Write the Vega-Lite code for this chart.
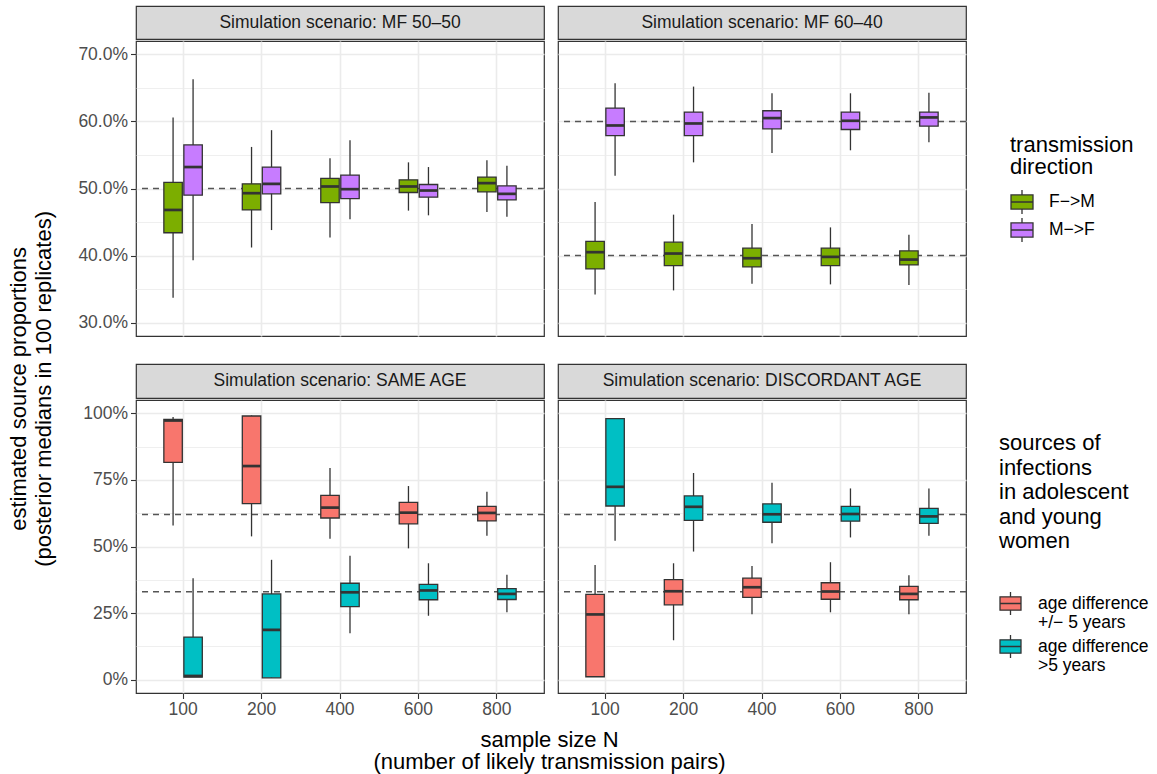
{
  "$schema": "https://vega.github.io/schema/vega-lite/v6.json",
  "background": "white",
  "padding": {"left": 8, "top": 5, "right": 5, "bottom": 2},
  "config": {
    "font": "Liberation Sans",
    "view": {"stroke": null},
    "axis": {"labelFont": "Liberation Sans"},
    "legend": {"labelFont": "Liberation Sans", "titleFont": "Liberation Sans"}
  },
  "datasets": {
    "boxes": [
      {"scenario": "MF 50-50", "N": 100, "group": "F−>M", "lo": 0.337, "q1": 0.434, "med": 0.468, "q3": 0.509, "hi": 0.606},
      {"scenario": "MF 50-50", "N": 100, "group": "M−>F", "lo": 0.393, "q1": 0.490, "med": 0.532, "q3": 0.565, "hi": 0.663},
      {"scenario": "MF 50-50", "N": 200, "group": "F−>M", "lo": 0.412, "q1": 0.468, "med": 0.493, "q3": 0.507, "hi": 0.562},
      {"scenario": "MF 50-50", "N": 200, "group": "M−>F", "lo": 0.438, "q1": 0.492, "med": 0.507, "q3": 0.532, "hi": 0.587},
      {"scenario": "MF 50-50", "N": 400, "group": "F−>M", "lo": 0.427, "q1": 0.479, "med": 0.503, "q3": 0.515, "hi": 0.545},
      {"scenario": "MF 50-50", "N": 400, "group": "M−>F", "lo": 0.454, "q1": 0.485, "med": 0.499, "q3": 0.520, "hi": 0.572},
      {"scenario": "MF 50-50", "N": 600, "group": "F−>M", "lo": 0.467, "q1": 0.494, "med": 0.503, "q3": 0.513, "hi": 0.539},
      {"scenario": "MF 50-50", "N": 600, "group": "M−>F", "lo": 0.460, "q1": 0.487, "med": 0.497, "q3": 0.506, "hi": 0.532},
      {"scenario": "MF 50-50", "N": 800, "group": "F−>M", "lo": 0.465, "q1": 0.495, "med": 0.508, "q3": 0.517, "hi": 0.542},
      {"scenario": "MF 50-50", "N": 800, "group": "M−>F", "lo": 0.458, "q1": 0.483, "med": 0.492, "q3": 0.504, "hi": 0.534},
      {"scenario": "MF 60-40", "N": 100, "group": "F−>M", "lo": 0.342, "q1": 0.380, "med": 0.405, "q3": 0.421, "hi": 0.480},
      {"scenario": "MF 60-40", "N": 100, "group": "M−>F", "lo": 0.519, "q1": 0.579, "med": 0.594, "q3": 0.620, "hi": 0.657},
      {"scenario": "MF 60-40", "N": 200, "group": "F−>M", "lo": 0.348, "q1": 0.385, "med": 0.403, "q3": 0.420, "hi": 0.461},
      {"scenario": "MF 60-40", "N": 200, "group": "M−>F", "lo": 0.539, "q1": 0.579, "med": 0.597, "q3": 0.614, "hi": 0.652},
      {"scenario": "MF 60-40", "N": 400, "group": "F−>M", "lo": 0.358, "q1": 0.383, "med": 0.396, "q3": 0.411, "hi": 0.447},
      {"scenario": "MF 60-40", "N": 400, "group": "M−>F", "lo": 0.553, "q1": 0.589, "med": 0.605, "q3": 0.616, "hi": 0.642},
      {"scenario": "MF 60-40", "N": 600, "group": "F−>M", "lo": 0.357, "q1": 0.385, "med": 0.398, "q3": 0.411, "hi": 0.442},
      {"scenario": "MF 60-40", "N": 600, "group": "M−>F", "lo": 0.557, "q1": 0.588, "med": 0.601, "q3": 0.614, "hi": 0.642},
      {"scenario": "MF 60-40", "N": 800, "group": "F−>M", "lo": 0.356, "q1": 0.386, "med": 0.394, "q3": 0.407, "hi": 0.431},
      {"scenario": "MF 60-40", "N": 800, "group": "M−>F", "lo": 0.569, "q1": 0.593, "med": 0.606, "q3": 0.614, "hi": 0.643},
      {"scenario": "SAME AGE", "N": 100, "group": "age difference +/− 5 years", "lo": 0.579, "q1": 0.816, "med": 0.973, "q3": 0.977, "hi": 0.986},
      {"scenario": "SAME AGE", "N": 100, "group": "age difference >5 years", "lo": 0.010, "q1": 0.010, "med": 0.014, "q3": 0.160, "hi": 0.381},
      {"scenario": "SAME AGE", "N": 200, "group": "age difference +/− 5 years", "lo": 0.538, "q1": 0.661, "med": 0.802, "q3": 0.990, "hi": 0.992},
      {"scenario": "SAME AGE", "N": 200, "group": "age difference >5 years", "lo": 0.007, "q1": 0.007, "med": 0.187, "q3": 0.322, "hi": 0.450},
      {"scenario": "SAME AGE", "N": 400, "group": "age difference +/− 5 years", "lo": 0.529, "q1": 0.607, "med": 0.646, "q3": 0.692, "hi": 0.795},
      {"scenario": "SAME AGE", "N": 400, "group": "age difference >5 years", "lo": 0.174, "q1": 0.274, "med": 0.328, "q3": 0.362, "hi": 0.465},
      {"scenario": "SAME AGE", "N": 600, "group": "age difference +/− 5 years", "lo": 0.493, "q1": 0.585, "med": 0.627, "q3": 0.666, "hi": 0.727},
      {"scenario": "SAME AGE", "N": 600, "group": "age difference >5 years", "lo": 0.240, "q1": 0.300, "med": 0.335, "q3": 0.358, "hi": 0.437},
      {"scenario": "SAME AGE", "N": 800, "group": "age difference +/− 5 years", "lo": 0.540, "q1": 0.596, "med": 0.626, "q3": 0.651, "hi": 0.706},
      {"scenario": "SAME AGE", "N": 800, "group": "age difference >5 years", "lo": 0.253, "q1": 0.301, "med": 0.322, "q3": 0.342, "hi": 0.394},
      {"scenario": "DISCORDANT AGE", "N": 100, "group": "age difference +/− 5 years", "lo": 0.011, "q1": 0.011, "med": 0.245, "q3": 0.320, "hi": 0.431},
      {"scenario": "DISCORDANT AGE", "N": 100, "group": "age difference >5 years", "lo": 0.522, "q1": 0.652, "med": 0.724, "q3": 0.980, "hi": 0.981},
      {"scenario": "DISCORDANT AGE", "N": 200, "group": "age difference +/− 5 years", "lo": 0.148, "q1": 0.281, "med": 0.332, "q3": 0.376, "hi": 0.437},
      {"scenario": "DISCORDANT AGE", "N": 200, "group": "age difference >5 years", "lo": 0.481, "q1": 0.598, "med": 0.649, "q3": 0.690, "hi": 0.776},
      {"scenario": "DISCORDANT AGE", "N": 400, "group": "age difference +/− 5 years", "lo": 0.246, "q1": 0.309, "med": 0.347, "q3": 0.381, "hi": 0.427},
      {"scenario": "DISCORDANT AGE", "N": 400, "group": "age difference >5 years", "lo": 0.512, "q1": 0.591, "med": 0.621, "q3": 0.660, "hi": 0.739},
      {"scenario": "DISCORDANT AGE", "N": 600, "group": "age difference +/− 5 years", "lo": 0.253, "q1": 0.302, "med": 0.331, "q3": 0.364, "hi": 0.441},
      {"scenario": "DISCORDANT AGE", "N": 600, "group": "age difference >5 years", "lo": 0.534, "q1": 0.595, "med": 0.622, "q3": 0.651, "hi": 0.718},
      {"scenario": "DISCORDANT AGE", "N": 800, "group": "age difference +/− 5 years", "lo": 0.246, "q1": 0.300, "med": 0.322, "q3": 0.350, "hi": 0.392},
      {"scenario": "DISCORDANT AGE", "N": 800, "group": "age difference >5 years", "lo": 0.540, "q1": 0.587, "med": 0.613, "q3": 0.643, "hi": 0.718}
    ],
    "refs": [
      {"scenario": "MF 50-50", "target": 0.5},
      {"scenario": "MF 60-40", "target": 0.6},
      {"scenario": "MF 60-40", "target": 0.4},
      {"scenario": "SAME AGE", "target": 0.62},
      {"scenario": "SAME AGE", "target": 0.33},
      {"scenario": "DISCORDANT AGE", "target": 0.62},
      {"scenario": "DISCORDANT AGE", "target": 0.33}
    ]
  },
  "title": {
    "text": ["estimated source proportions", "(posterior medians in 100 replicates)"],
    "orient": "left", "anchor": "middle", "frame": "bounds",
    "fontSize": 22, "fontWeight": "normal", "color": "#000000", "lineHeight": 25, "offset": 21
  },
  "resolve": {"scale": {"color": "independent", "xOffset": "independent"}},
  "spacing": 8,
  "vconcat": [
    {
      "spacing": 26,
      "resolve": {"scale": {"color": "independent", "xOffset": "independent"}},
      "vconcat": [
        {
          "spacing": 10,
          "resolve": {"scale": {"xOffset": "independent"}},
          "hconcat": [
            {
              "spacing": 0,
              "resolve": {"scale": {"xOffset": "independent"}},
              "vconcat": [
                {
                  "width": 408, "height": 33,
                  "view": {"fill": "#D9D9D9", "stroke": "#333333", "strokeWidth": 1.2},
                  "data": {"values": [{"label": "Simulation scenario: MF 50–50"}]},
                  "mark": {"type": "text", "fontSize": 17.5, "color": "#1A1A1A"},
                  "encoding": {"text": {"field": "label"}}
                },
                {
                  "width": 408, "height": 295,
                  "view": {"fill": "white", "stroke": "#333333", "strokeWidth": 1.2},
                  "resolve": {"axis": {"y": "independent"}},
                  "layer": [
                    {
                      "data": {"name": "refs"},
                      "transform": [{"filter": "datum.scenario === 'MF 50-50'"}],
                      "mark": {"type": "rule", "strokeDash": [6, 5], "color": "#555555", "strokeWidth": 1.4},
                      "encoding": {
                        "y": {"field": "target", "type": "quantitative", "scale": {"domain": [0.28, 0.72], "nice": false, "zero": false},
                          "axis": {"title": null, "values": [0.3, 0.4, 0.5, 0.6, 0.7], "format": ".1%", "grid": true, "gridColor": "#EBEBEB", "gridWidth": 1.6, "domain": false, "tickColor": "#333333", "tickSize": 5.5, "tickWidth": 1.1, "labelFontSize": 17.5, "labelColor": "#4D4D4D", "labelPadding": 3}}
                      }
                    },
                    {
                      "data": {"name": "boxes"},
                      "transform": [{"filter": "datum.scenario === 'MF 50-50'"}],
                      "mark": {"type": "rule", "color": "#333333", "strokeWidth": 1.3},
                      "encoding": {
                        "x": {"field": "N", "type": "ordinal", "scale": {"type": "band", "paddingInner": 0, "paddingOuter": 0.1}, "axis": {"title": null, "labels": false, "ticks": false, "domain": false, "grid": true, "gridColor": "#EBEBEB", "gridWidth": 1.6, "bandPosition": 0.5}},
                        "xOffset": {"field": "group", "type": "nominal", "scale": {"domain": ["F−>M", "M−>F"], "paddingInner": 0.077, "paddingOuter": 1.05}},
                        "y": {"field": "lo", "type": "quantitative", "axis": {"orient": "right", "title": null, "values": [0.35, 0.45, 0.55, 0.65], "grid": true, "gridColor": "#EBEBEB", "gridWidth": 0.8, "labels": false, "ticks": false, "domain": false}},
                        "y2": {"field": "hi"}
                      }
                    },
                    {
                      "data": {"name": "boxes"},
                      "transform": [{"filter": "datum.scenario === 'MF 50-50'"}],
                      "mark": {"type": "bar", "stroke": "#333333", "strokeWidth": 1.3},
                      "encoding": {
                        "x": {"field": "N", "type": "ordinal", "scale": {"type": "band", "paddingInner": 0, "paddingOuter": 0.1}, "axis": {"title": null, "labels": false, "ticks": false, "domain": false, "grid": true, "gridColor": "#EBEBEB", "gridWidth": 1.6, "bandPosition": 0.5}},
                        "xOffset": {"field": "group", "type": "nominal", "scale": {"domain": ["F−>M", "M−>F"], "paddingInner": 0.077, "paddingOuter": 1.05}},
                        "y": {"field": "q1", "type": "quantitative", "axis": null},
                        "y2": {"field": "q3"},
                        "color": {"field": "group", "type": "nominal", "scale": {"domain": ["F−>M", "M−>F"], "range": ["#7CAE00", "#C77CFF"]},
                          "legend": {"title": ["transmission", "direction"], "orient": "none", "legendX": 874, "legendY": 129, "padding": 0,
                            "symbolType": "M-1,-0.64H1V0.64H-1Z M-1,0H1 M0,-0.64V-1.1 M0,0.64V1.1", "symbolSize": 484, "symbolStrokeColor": "#333333", "symbolStrokeWidth": 1.3,
                            "labelFontSize": 17.5, "labelColor": "#000000", "labelOffset": 15, "titleFontSize": 22, "titleFontWeight": "normal", "titleColor": "#000000", "titleLineHeight": 22, "titlePadding": 11, "rowPadding": -2}}
                      }
                    },
                    {
                      "data": {"name": "boxes"},
                      "transform": [{"filter": "datum.scenario === 'MF 50-50'"}],
                      "mark": {"type": "tick", "color": "#333333", "opacity": 1, "thickness": 2.7, "size": 18},
                      "encoding": {
                        "x": {"field": "N", "type": "ordinal", "scale": {"type": "band", "paddingInner": 0, "paddingOuter": 0.1}, "axis": {"title": null, "labels": false, "ticks": false, "domain": false, "grid": true, "gridColor": "#EBEBEB", "gridWidth": 1.6, "bandPosition": 0.5}},
                        "xOffset": {"field": "group", "type": "nominal", "scale": {"domain": ["F−>M", "M−>F"], "paddingInner": 0.077, "paddingOuter": 1.05}},
                        "y": {"field": "med", "type": "quantitative", "axis": null}
                      }
                    }
                  ]
                }
              ]
            },
            {
              "spacing": 0,
              "resolve": {"scale": {"xOffset": "independent"}},
              "vconcat": [
                {
                  "width": 408, "height": 33,
                  "view": {"fill": "#D9D9D9", "stroke": "#333333", "strokeWidth": 1.2},
                  "data": {"values": [{"label": "Simulation scenario: MF 60–40"}]},
                  "mark": {"type": "text", "fontSize": 17.5, "color": "#1A1A1A"},
                  "encoding": {"text": {"field": "label"}}
                },
                {
                  "width": 408, "height": 295,
                  "view": {"fill": "white", "stroke": "#333333", "strokeWidth": 1.2},
                  "resolve": {"axis": {"y": "independent"}},
                  "layer": [
                    {
                      "data": {"name": "refs"},
                      "transform": [{"filter": "datum.scenario === 'MF 60-40'"}],
                      "mark": {"type": "rule", "strokeDash": [6, 5], "color": "#555555", "strokeWidth": 1.4},
                      "encoding": {
                        "y": {"field": "target", "type": "quantitative", "scale": {"domain": [0.28, 0.72], "nice": false, "zero": false},
                          "axis": {"title": null, "values": [0.3, 0.4, 0.5, 0.6, 0.7], "grid": true, "gridColor": "#EBEBEB", "gridWidth": 1.6, "domain": false, "ticks": false, "labels": false}}
                      }
                    },
                    {
                      "data": {"name": "boxes"},
                      "transform": [{"filter": "datum.scenario === 'MF 60-40'"}],
                      "mark": {"type": "rule", "color": "#333333", "strokeWidth": 1.3},
                      "encoding": {
                        "x": {"field": "N", "type": "ordinal", "scale": {"type": "band", "paddingInner": 0, "paddingOuter": 0.1}, "axis": {"title": null, "labels": false, "ticks": false, "domain": false, "grid": true, "gridColor": "#EBEBEB", "gridWidth": 1.6, "bandPosition": 0.5}},
                        "xOffset": {"field": "group", "type": "nominal", "scale": {"domain": ["F−>M", "M−>F"], "paddingInner": 0.077, "paddingOuter": 1.05}},
                        "y": {"field": "lo", "type": "quantitative", "axis": {"orient": "right", "title": null, "values": [0.35, 0.45, 0.55, 0.65], "grid": true, "gridColor": "#EBEBEB", "gridWidth": 0.8, "labels": false, "ticks": false, "domain": false}},
                        "y2": {"field": "hi"}
                      }
                    },
                    {
                      "data": {"name": "boxes"},
                      "transform": [{"filter": "datum.scenario === 'MF 60-40'"}],
                      "mark": {"type": "bar", "stroke": "#333333", "strokeWidth": 1.3},
                      "encoding": {
                        "x": {"field": "N", "type": "ordinal", "scale": {"type": "band", "paddingInner": 0, "paddingOuter": 0.1}, "axis": {"title": null, "labels": false, "ticks": false, "domain": false, "grid": true, "gridColor": "#EBEBEB", "gridWidth": 1.6, "bandPosition": 0.5}},
                        "xOffset": {"field": "group", "type": "nominal", "scale": {"domain": ["F−>M", "M−>F"], "paddingInner": 0.077, "paddingOuter": 1.05}},
                        "y": {"field": "q1", "type": "quantitative", "axis": null},
                        "y2": {"field": "q3"},
                        "color": {"field": "group", "type": "nominal", "scale": {"domain": ["F−>M", "M−>F"], "range": ["#7CAE00", "#C77CFF"]},
                          "legend": {"title": ["transmission", "direction"], "orient": "none", "legendX": 874, "legendY": 129, "padding": 0,
                            "symbolType": "M-1,-0.64H1V0.64H-1Z M-1,0H1 M0,-0.64V-1.1 M0,0.64V1.1", "symbolSize": 484, "symbolStrokeColor": "#333333", "symbolStrokeWidth": 1.3,
                            "labelFontSize": 17.5, "labelColor": "#000000", "labelOffset": 15, "titleFontSize": 22, "titleFontWeight": "normal", "titleColor": "#000000", "titleLineHeight": 22, "titlePadding": 11, "rowPadding": -2}}
                      }
                    },
                    {
                      "data": {"name": "boxes"},
                      "transform": [{"filter": "datum.scenario === 'MF 60-40'"}],
                      "mark": {"type": "tick", "color": "#333333", "opacity": 1, "thickness": 2.7, "size": 18},
                      "encoding": {
                        "x": {"field": "N", "type": "ordinal", "scale": {"type": "band", "paddingInner": 0, "paddingOuter": 0.1}, "axis": {"title": null, "labels": false, "ticks": false, "domain": false, "grid": true, "gridColor": "#EBEBEB", "gridWidth": 1.6, "bandPosition": 0.5}},
                        "xOffset": {"field": "group", "type": "nominal", "scale": {"domain": ["F−>M", "M−>F"], "paddingInner": 0.077, "paddingOuter": 1.05}},
                        "y": {"field": "med", "type": "quantitative", "axis": null}
                      }
                    }
                  ]
                }
              ]
            }
          ]
        },
        {
          "spacing": 10,
          "resolve": {"scale": {"xOffset": "independent"}},
          "hconcat": [
            {
              "spacing": 0,
              "resolve": {"scale": {"xOffset": "independent"}},
              "vconcat": [
                {
                  "width": 408, "height": 34,
                  "view": {"fill": "#D9D9D9", "stroke": "#333333", "strokeWidth": 1.2},
                  "data": {"values": [{"label": "Simulation scenario: SAME AGE"}]},
                  "mark": {"type": "text", "fontSize": 17.5, "color": "#1A1A1A"},
                  "encoding": {"text": {"field": "label"}}
                },
                {
                  "width": 408, "height": 293,
                  "view": {"fill": "white", "stroke": "#333333", "strokeWidth": 1.2},
                  "resolve": {"axis": {"y": "independent"}},
                  "layer": [
                    {
                      "data": {"name": "refs"},
                      "transform": [{"filter": "datum.scenario === 'SAME AGE'"}],
                      "mark": {"type": "rule", "strokeDash": [6, 5], "color": "#555555", "strokeWidth": 1.4},
                      "encoding": {
                        "y": {"field": "target", "type": "quantitative", "scale": {"domain": [-0.05, 1.05], "nice": false, "zero": false},
                          "axis": {"title": null, "values": [0, 0.25, 0.5, 0.75, 1], "format": ".0%", "grid": true, "gridColor": "#EBEBEB", "gridWidth": 1.6, "domain": false, "tickColor": "#333333", "tickSize": 5.5, "tickWidth": 1.1, "labelFontSize": 17.5, "labelColor": "#4D4D4D", "labelPadding": 3}}
                      }
                    },
                    {
                      "data": {"name": "boxes"},
                      "transform": [{"filter": "datum.scenario === 'SAME AGE'"}],
                      "mark": {"type": "rule", "color": "#333333", "strokeWidth": 1.3},
                      "encoding": {
                        "x": {"field": "N", "type": "ordinal", "scale": {"type": "band", "paddingInner": 0, "paddingOuter": 0.1}, "axis": {"title": null, "labelAngle": 0, "labelFontSize": 17.5, "labelColor": "#4D4D4D", "labelPadding": 2, "tickColor": "#333333", "tickSize": 5.5, "tickWidth": 1.1, "domain": false, "grid": true, "gridColor": "#EBEBEB", "gridWidth": 1.6, "bandPosition": 0.5}},
                        "xOffset": {"field": "group", "type": "nominal", "scale": {"domain": ["age difference +/− 5 years", "age difference >5 years"], "paddingInner": 0.077, "paddingOuter": 1.05}},
                        "y": {"field": "lo", "type": "quantitative", "axis": {"orient": "right", "title": null, "values": [0.125, 0.375, 0.625, 0.875], "grid": true, "gridColor": "#EBEBEB", "gridWidth": 0.8, "labels": false, "ticks": false, "domain": false}},
                        "y2": {"field": "hi"}
                      }
                    },
                    {
                      "data": {"name": "boxes"},
                      "transform": [{"filter": "datum.scenario === 'SAME AGE'"}],
                      "mark": {"type": "bar", "stroke": "#333333", "strokeWidth": 1.3},
                      "encoding": {
                        "x": {"field": "N", "type": "ordinal", "scale": {"type": "band", "paddingInner": 0, "paddingOuter": 0.1}, "axis": {"title": null, "labelAngle": 0, "labelFontSize": 17.5, "labelColor": "#4D4D4D", "labelPadding": 2, "tickColor": "#333333", "tickSize": 5.5, "tickWidth": 1.1, "domain": false, "grid": true, "gridColor": "#EBEBEB", "gridWidth": 1.6, "bandPosition": 0.5}},
                        "xOffset": {"field": "group", "type": "nominal", "scale": {"domain": ["age difference +/− 5 years", "age difference >5 years"], "paddingInner": 0.077, "paddingOuter": 1.05}},
                        "y": {"field": "q1", "type": "quantitative", "axis": null},
                        "y2": {"field": "q3"},
                        "color": {"field": "group", "type": "nominal", "scale": {"domain": ["age difference +/− 5 years", "age difference >5 years"], "range": ["#F8766D", "#00BFC4"]},
                          "legend": {"title": ["sources of", "infections", "in adolescent", "and young", "women"], "orient": "none", "legendX": 863, "legendY": 69, "padding": 0,
                            "symbolType": "M-1,-0.64H1V0.64H-1Z M-1,0H1 M0,-0.64V-1.1 M0,0.64V1.1", "symbolSize": 441, "symbolStrokeColor": "#333333", "symbolStrokeWidth": 1.3,
                            "labelExpr": "[slice(datum.label, 0, 14), slice(datum.label, 15)]",
                            "labelFontSize": 17.5, "labelColor": "#000000", "labelOffset": 16, "titleFontSize": 22, "titleFontWeight": "normal", "titleColor": "#000000", "titleLineHeight": 24.5, "titlePadding": 39, "rowPadding": 0}}
                      }
                    },
                    {
                      "data": {"name": "boxes"},
                      "transform": [{"filter": "datum.scenario === 'SAME AGE'"}],
                      "mark": {"type": "tick", "color": "#333333", "opacity": 1, "thickness": 2.7, "size": 18},
                      "encoding": {
                        "x": {"field": "N", "type": "ordinal", "scale": {"type": "band", "paddingInner": 0, "paddingOuter": 0.1}, "axis": {"title": null, "labelAngle": 0, "labelFontSize": 17.5, "labelColor": "#4D4D4D", "labelPadding": 2, "tickColor": "#333333", "tickSize": 5.5, "tickWidth": 1.1, "domain": false, "grid": true, "gridColor": "#EBEBEB", "gridWidth": 1.6, "bandPosition": 0.5}},
                        "xOffset": {"field": "group", "type": "nominal", "scale": {"domain": ["age difference +/− 5 years", "age difference >5 years"], "paddingInner": 0.077, "paddingOuter": 1.05}},
                        "y": {"field": "med", "type": "quantitative", "axis": null}
                      }
                    }
                  ]
                }
              ]
            },
            {
              "spacing": 0,
              "resolve": {"scale": {"xOffset": "independent"}},
              "vconcat": [
                {
                  "width": 408, "height": 34,
                  "view": {"fill": "#D9D9D9", "stroke": "#333333", "strokeWidth": 1.2},
                  "data": {"values": [{"label": "Simulation scenario: DISCORDANT AGE"}]},
                  "mark": {"type": "text", "fontSize": 17.5, "color": "#1A1A1A"},
                  "encoding": {"text": {"field": "label"}}
                },
                {
                  "width": 408, "height": 293,
                  "view": {"fill": "white", "stroke": "#333333", "strokeWidth": 1.2},
                  "resolve": {"axis": {"y": "independent"}},
                  "layer": [
                    {
                      "data": {"name": "refs"},
                      "transform": [{"filter": "datum.scenario === 'DISCORDANT AGE'"}],
                      "mark": {"type": "rule", "strokeDash": [6, 5], "color": "#555555", "strokeWidth": 1.4},
                      "encoding": {
                        "y": {"field": "target", "type": "quantitative", "scale": {"domain": [-0.05, 1.05], "nice": false, "zero": false},
                          "axis": {"title": null, "values": [0, 0.25, 0.5, 0.75, 1], "grid": true, "gridColor": "#EBEBEB", "gridWidth": 1.6, "domain": false, "ticks": false, "labels": false}}
                      }
                    },
                    {
                      "data": {"name": "boxes"},
                      "transform": [{"filter": "datum.scenario === 'DISCORDANT AGE'"}],
                      "mark": {"type": "rule", "color": "#333333", "strokeWidth": 1.3},
                      "encoding": {
                        "x": {"field": "N", "type": "ordinal", "scale": {"type": "band", "paddingInner": 0, "paddingOuter": 0.1}, "axis": {"title": null, "labelAngle": 0, "labelFontSize": 17.5, "labelColor": "#4D4D4D", "labelPadding": 2, "tickColor": "#333333", "tickSize": 5.5, "tickWidth": 1.1, "domain": false, "grid": true, "gridColor": "#EBEBEB", "gridWidth": 1.6, "bandPosition": 0.5}},
                        "xOffset": {"field": "group", "type": "nominal", "scale": {"domain": ["age difference +/− 5 years", "age difference >5 years"], "paddingInner": 0.077, "paddingOuter": 1.05}},
                        "y": {"field": "lo", "type": "quantitative", "axis": {"orient": "right", "title": null, "values": [0.125, 0.375, 0.625, 0.875], "grid": true, "gridColor": "#EBEBEB", "gridWidth": 0.8, "labels": false, "ticks": false, "domain": false}},
                        "y2": {"field": "hi"}
                      }
                    },
                    {
                      "data": {"name": "boxes"},
                      "transform": [{"filter": "datum.scenario === 'DISCORDANT AGE'"}],
                      "mark": {"type": "bar", "stroke": "#333333", "strokeWidth": 1.3},
                      "encoding": {
                        "x": {"field": "N", "type": "ordinal", "scale": {"type": "band", "paddingInner": 0, "paddingOuter": 0.1}, "axis": {"title": null, "labelAngle": 0, "labelFontSize": 17.5, "labelColor": "#4D4D4D", "labelPadding": 2, "tickColor": "#333333", "tickSize": 5.5, "tickWidth": 1.1, "domain": false, "grid": true, "gridColor": "#EBEBEB", "gridWidth": 1.6, "bandPosition": 0.5}},
                        "xOffset": {"field": "group", "type": "nominal", "scale": {"domain": ["age difference +/− 5 years", "age difference >5 years"], "paddingInner": 0.077, "paddingOuter": 1.05}},
                        "y": {"field": "q1", "type": "quantitative", "axis": null},
                        "y2": {"field": "q3"},
                        "color": {"field": "group", "type": "nominal", "scale": {"domain": ["age difference +/− 5 years", "age difference >5 years"], "range": ["#F8766D", "#00BFC4"]},
                          "legend": {"title": ["sources of", "infections", "in adolescent", "and young", "women"], "orient": "none", "legendX": 863, "legendY": 69, "padding": 0,
                            "symbolType": "M-1,-0.64H1V0.64H-1Z M-1,0H1 M0,-0.64V-1.1 M0,0.64V1.1", "symbolSize": 441, "symbolStrokeColor": "#333333", "symbolStrokeWidth": 1.3,
                            "labelExpr": "[slice(datum.label, 0, 14), slice(datum.label, 15)]",
                            "labelFontSize": 17.5, "labelColor": "#000000", "labelOffset": 16, "titleFontSize": 22, "titleFontWeight": "normal", "titleColor": "#000000", "titleLineHeight": 24.5, "titlePadding": 39, "rowPadding": 0}}
                      }
                    },
                    {
                      "data": {"name": "boxes"},
                      "transform": [{"filter": "datum.scenario === 'DISCORDANT AGE'"}],
                      "mark": {"type": "tick", "color": "#333333", "opacity": 1, "thickness": 2.7, "size": 18},
                      "encoding": {
                        "x": {"field": "N", "type": "ordinal", "scale": {"type": "band", "paddingInner": 0, "paddingOuter": 0.1}, "axis": {"title": null, "labelAngle": 0, "labelFontSize": 17.5, "labelColor": "#4D4D4D", "labelPadding": 2, "tickColor": "#333333", "tickSize": 5.5, "tickWidth": 1.1, "domain": false, "grid": true, "gridColor": "#EBEBEB", "gridWidth": 1.6, "bandPosition": 0.5}},
                        "xOffset": {"field": "group", "type": "nominal", "scale": {"domain": ["age difference +/− 5 years", "age difference >5 years"], "paddingInner": 0.077, "paddingOuter": 1.05}},
                        "y": {"field": "med", "type": "quantitative", "axis": null}
                      }
                    }
                  ]
                }
              ]
            }
          ]
        }
      ]
    },
    {
      "width": 827, "height": 26,
      "data": {"values": [{"t": "sample size N\n(number of likely transmission pairs)"}]},
      "mark": {"type": "text", "fontSize": 22, "lineHeight": 21.5, "lineBreak": "\n", "color": "#000000"},
      "encoding": {"text": {"field": "t"}}
    }
  ]
}
